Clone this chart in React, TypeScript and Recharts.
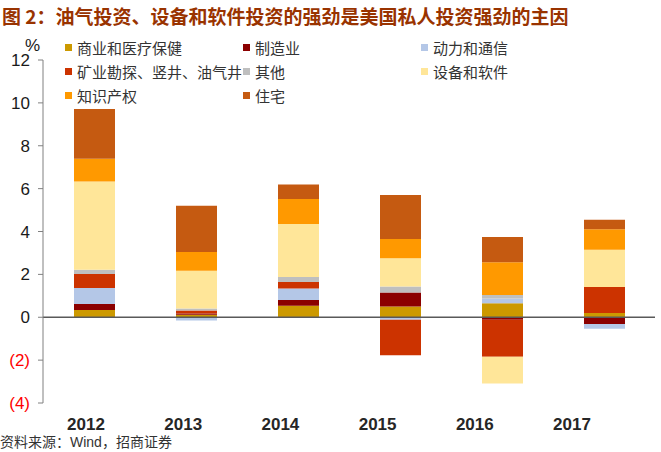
import { BarChart, Bar, XAxis, YAxis, ReferenceLine } from 'recharts';

const years = ['2012', '2013', '2014', '2015', '2016', '2017'];
const commercial = [0.34, 0.12, 0.54, 0.5, 0.65, 0.2];
const manufacturing = [0.28, 0.05, 0.26, 0.65, -0.12, -0.31];
const power = [0.75, -0.15, 0.54, -0.12, 0.22, -0.23];
const mining = [0.65, 0.14, 0.31, -1.65, -1.72, 1.21];
const other = [0.2, 0.1, 0.23, 0.28, 0.17, 0];
const equipment = [4.11, 1.76, 2.47, 1.32, -1.25, 1.74];
const ip = [1.06, 0.87, 1.17, 0.9, 1.53, 0.96];
const residential = [2.33, 2.16, 0.67, 2.05, 1.17, 0.44];
const yTicks = [-4, -2, 0, 2, 4, 6, 8, 10, 12];

const series = [
  { key: 'commercial', name: '商业和医疗保健', color: '#CC9900', values: commercial },
  { key: 'manufacturing', name: '制造业', color: '#8B0000', values: manufacturing },
  { key: 'power', name: '动力和通信', color: '#B4C7E7', values: power },
  { key: 'mining', name: '矿业勘探、竖井、油气井', color: '#CC3300', values: mining },
  { key: 'other', name: '其他', color: '#BFBFBF', values: other },
  { key: 'equipment', name: '设备和软件', color: '#FFE699', values: equipment },
  { key: 'ip', name: '知识产权', color: '#FF9900', values: ip },
  { key: 'residential', name: '住宅', color: '#C55A11', values: residential },
];

const data = years.map((year, i) => {
  const row: Record<string, string | number> = { year };
  series.forEach((s) => {
    row[s.key] = s.values[i];
  });
  return row;
});

const cjk = '"Noto Sans CJK SC", sans-serif';
const latin = '"Liberation Sans", Arial, sans-serif';

const YTick = ({ x, y, payload }: any) => {
  const v = payload.value as number;
  return (
    <text
      x={x}
      y={y}
      dy={6}
      textAnchor="end"
      fontFamily={latin}
      fontSize={17}
      fill={v < 0 ? '#FF0000' : '#1a1a1a'}
    >
      {v < 0 ? `(${-v})` : v}
    </text>
  );
};

// year labels sit a little left of the bars in the original
const XTick = ({ x, y, payload, index }: any) => (
  <text
    x={x - (8 + index * 4.8)}
    y={y + 19}
    textAnchor="middle"
    fontFamily={latin}
    fontSize={17}
    fontWeight="bold"
    fill="#262626"
  >
    {payload.value}
  </text>
);

const legendPos = [
  [65, 47], [243, 47], [421, 47],
  [65, 71], [243, 71], [421, 71],
  [65, 95], [243, 95],
];

export default function App() {
  return (
    <div style={{ position: 'absolute', left: 0, top: 0, width: 661, height: 452, background: '#fff' }}>
      <div
        style={{
          position: 'absolute',
          left: 2,
          top: 2,
          fontFamily: cjk,
          fontSize: 19,
          fontWeight: 'bold',
          color: '#993300',
          whiteSpace: 'nowrap',
        }}
      >
        图 2：油气投资、设备和软件投资的强劲是美国私人投资强劲的主因
      </div>

      <BarChart
        width={661}
        height={452}
        data={data}
        stackOffset="sign"
        margin={{ top: 60, right: 6, bottom: 19, left: 0 }}
        style={{ position: 'absolute', left: 0, top: 0 }}
      >
        <XAxis dataKey="year" height={30} axisLine={false} tickLine={false} tick={<XTick />} interval={0} />
        <YAxis
          width={43}
          domain={[-4, 12]}
          ticks={yTicks}
          interval={0}
          stroke="#808080"
          tickSize={5}
          tickMargin={8}
          tick={<YTick />}
        />
        {series.map((s) => (
          <Bar
            key={s.key}
            dataKey={s.key}
            name={s.name}
            stackId="a"
            fill={s.color}
            barSize={41}
            isAnimationActive={false}
          />
        ))}
        <ReferenceLine y={0} stroke="#595959" strokeWidth={1.5} />
      </BarChart>

      <div
        style={{
          position: 'absolute',
          left: 25,
          top: 36,
          fontFamily: latin,
          fontSize: 17,
          color: '#1a1a1a',
        }}
      >
        %
      </div>

      {series.map((s, n) => {
        const [lx, ly] = legendPos[n];
        return (
          <div
            key={s.key}
            style={{
              position: 'absolute',
              left: lx,
              top: ly - 11,
              height: 22,
              display: 'flex',
              alignItems: 'center',
              fontFamily: cjk,
              fontSize: 15,
              color: '#333',
              whiteSpace: 'nowrap',
            }}
          >
            <span style={{ width: 7, height: 7, background: s.color, marginRight: 5 }} />
            {s.name}
          </div>
        );
      })}

      <div
        style={{
          position: 'absolute',
          left: 0,
          top: 432,
          fontFamily: cjk,
          fontSize: 14,
          lineHeight: '18px',
          color: '#333',
          whiteSpace: 'nowrap',
        }}
      >
        资料来源：<span style={{ fontFamily: latin }}>Wind</span>，招商证券
      </div>
    </div>
  );
}
